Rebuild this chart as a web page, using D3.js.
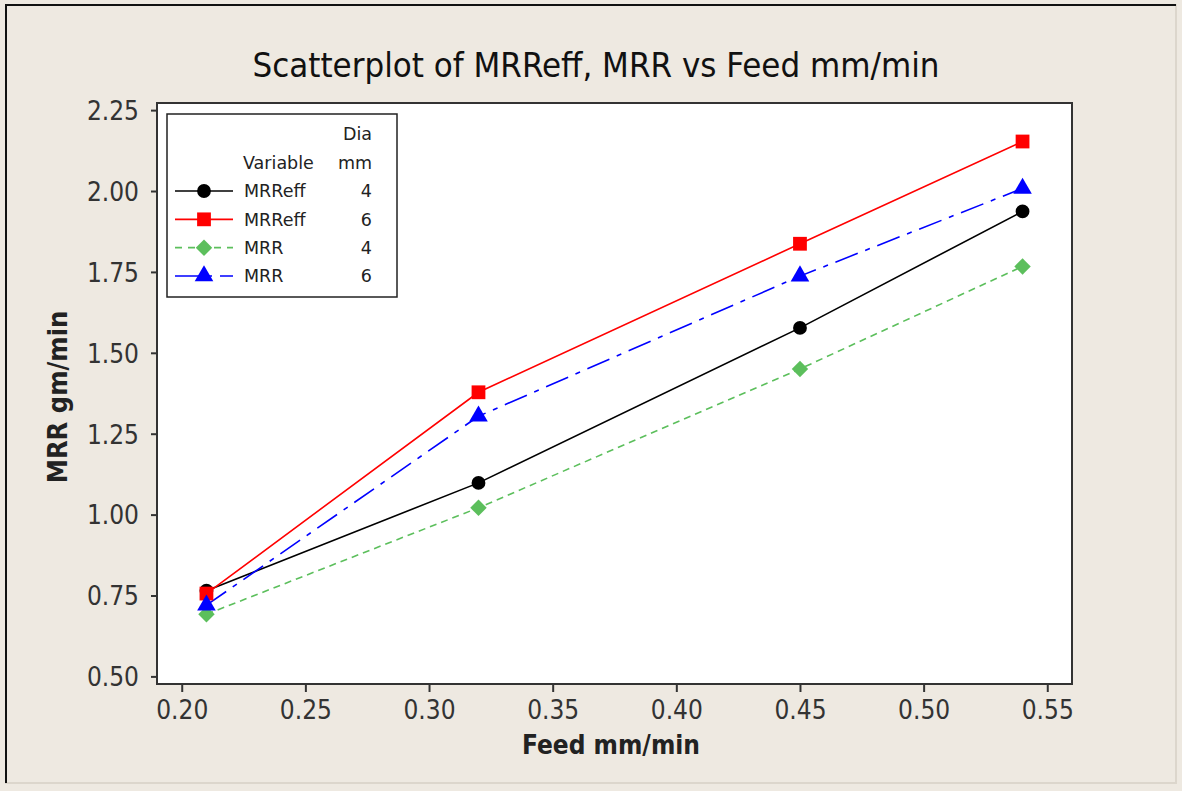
<!DOCTYPE html>
<html>
<head>
<meta charset="utf-8">
<script src="https://cdn.jsdelivr.net/npm/d3@7"></script>
<style>
  body { margin: 0; background: #eee9e1; }
  svg text { font-family: "DejaVu Sans Condensed", "DejaVu Sans", sans-serif; }
</style>
</head>
<body>
<svg id="chart" width="1182" height="791"></svg>
<script>
// data
var feed = [0.21, 0.32, 0.45, 0.54];
var mrrEff4 = [0.765, 1.098, 1.577, 1.937];
var mrrEff6 = [0.756, 1.378, 1.837, 2.153];
var mrr4 = [0.692, 1.021, 1.450, 1.767];
var mrr6 = [0.720, 1.304, 1.737, 2.008];
var seriesNames = ["MRReff", "MRReff", "MRR", "MRR"];
var seriesDia = ["4", "6", "4", "6"];
var xTicks = [0.20, 0.25, 0.30, 0.35, 0.40, 0.45, 0.50, 0.55];
var yTicks = [0.50, 0.75, 1.00, 1.25, 1.50, 1.75, 2.00, 2.25];

var styles = [
  { color: "#000000", dash: null, symbol: d3.symbolCircle, size: 150, rot: 0 },
  { color: "#ff0000", dash: null, symbol: d3.symbolSquare, size: 190, rot: 0 },
  { color: "#5cbf5c", dash: "7,5", symbol: d3.symbolSquare, size: 135, rot: 45 },
  { color: "#0000ff", dash: "24,8,5,8", symbol: d3.symbolTriangle, size: 150, rot: 0 }
];
var values = [mrrEff4, mrrEff6, mrr4, mrr6];
var series = values.map(function (v, i) {
  return { name: seriesNames[i], dia: seriesDia[i], style: styles[i],
           pts: feed.map(function (f, j) { return { x: f, y: v[j] }; }) };
});

var svg = d3.select("#chart");

// window frame
svg.append("rect").attr("x", 6).attr("y", 5).attr("width", 1170).attr("height", 778)
  .attr("fill", "none").attr("stroke", "#dcd6cc").attr("stroke-width", 2);
svg.append("path").attr("d", "M6,783V5H1176")
  .attr("fill", "none").attr("stroke", "#111").attr("stroke-width", 2);

var plot = { left: 157, top: 103, right: 1072, bottom: 684 };

var x = d3.scaleLinear().domain([0.19, 0.56]).range([plot.left, plot.right]);
var y = d3.scaleLinear().domain([0.4765, 2.272]).range([plot.bottom, plot.top]);

svg.append("rect")
  .attr("x", plot.left).attr("y", plot.top)
  .attr("width", plot.right - plot.left).attr("height", plot.bottom - plot.top)
  .attr("fill", "#fff").attr("stroke", "#333").attr("stroke-width", 2);

var xAxis = svg.append("g")
  .attr("transform", "translate(0," + plot.bottom + ")")
  .call(d3.axisBottom(x).tickValues(xTicks).tickFormat(d3.format(".2f")).tickSize(8).tickPadding(9));
var yAxis = svg.append("g")
  .attr("transform", "translate(" + plot.left + ",0)")
  .call(d3.axisLeft(y).tickValues(yTicks).tickFormat(d3.format(".2f")).tickSize(6).tickPadding(12));

[xAxis, yAxis].forEach(function (a) {
  a.select(".domain").remove();
  a.selectAll(".tick line").attr("stroke", "#333").attr("stroke-width", 2);
  a.selectAll(".tick text").attr("fill", "#333").style("font-size", "26px");
});
yAxis.selectAll(".tick text").attr("dy", "0.36em");

// title and axis labels
svg.append("text").attr("x", 596).attr("y", 77).attr("text-anchor", "middle")
  .style("font-size", "34.5px").attr("fill", "#111")
  .text("Scatterplot of MRReff, MRR vs Feed mm/min");
svg.append("text").attr("x", 611).attr("y", 754).attr("text-anchor", "middle")
  .style("font-size", "26px").style("font-weight", "bold").attr("fill", "#222")
  .text("Feed mm/min");
svg.append("text").attr("transform", "translate(67,397) rotate(-90)").attr("text-anchor", "middle")
  .style("font-size", "27px").style("font-weight", "bold").attr("fill", "#222")
  .text("MRR gm/min");

// lines + markers
var line = d3.line().x(function (d) { return x(d.x); }).y(function (d) { return y(d.y); });

series.forEach(function (s) {
  svg.append("path").datum(s.pts)
    .attr("d", line).attr("fill", "none")
    .attr("stroke", s.style.color).attr("stroke-width", 1.6)
    .attr("stroke-dasharray", s.style.dash);
});
series.forEach(function (s) {
  svg.selectAll(null).data(s.pts).enter().append("path")
    .attr("transform", function (d) {
      return "translate(" + x(d.x) + "," + y(d.y) + ") rotate(" + s.style.rot + ")";
    })
    .attr("d", d3.symbol().type(s.style.symbol).size(s.style.size))
    .attr("fill", s.style.color);
});

// legend
var lg = svg.append("g").style("font-family", "'DejaVu Sans', sans-serif");
lg.append("rect").attr("x", 167).attr("y", 114).attr("width", 230).attr("height", 183)
  .attr("fill", "#fff").attr("stroke", "#222").attr("stroke-width", 1.5);
lg.append("text").attr("x", 372).attr("y", 140).attr("text-anchor", "end")
  .style("font-size", "17.5px").attr("fill", "#222").text("Dia");
lg.append("text").attr("x", 243).attr("y", 169)
  .style("font-size", "17.5px").attr("fill", "#222").text("Variable");
lg.append("text").attr("x", 372).attr("y", 169).attr("text-anchor", "end")
  .style("font-size", "17.5px").attr("fill", "#222").text("mm");

var rowY = d3.scalePoint().domain(d3.range(series.length)).range([191, 276]);
series.forEach(function (s, i) {
  var ry = rowY(i);
  lg.append("line").attr("x1", 175).attr("x2", 233).attr("y1", ry).attr("y2", ry)
    .attr("stroke", s.style.color).attr("stroke-width", 1.6)
    .attr("stroke-dasharray", s.style.dash ? (i === 3 ? "24,8,5,8" : "7,6") : null);
  lg.append("path").attr("transform", "translate(204," + ry + ") rotate(" + s.style.rot + ")")
    .attr("d", d3.symbol().type(s.style.symbol).size(s.style.size))
    .attr("fill", s.style.color);
  lg.append("text").attr("x", 244).attr("y", ry).attr("dy", "0.36em")
    .style("font-family", "'DejaVu Sans', sans-serif")
    .style("font-size", "17.5px").attr("fill", "#222").text(s.name);
  lg.append("text").attr("x", 372).attr("y", ry).attr("dy", "0.36em").attr("text-anchor", "end")
    .style("font-family", "'DejaVu Sans', sans-serif")
    .style("font-size", "17.5px").attr("fill", "#222").text(s.dia);
});
lg.selectAll("text").style("font-family", "'DejaVu Sans', sans-serif");
</script>
</body>
</html>
